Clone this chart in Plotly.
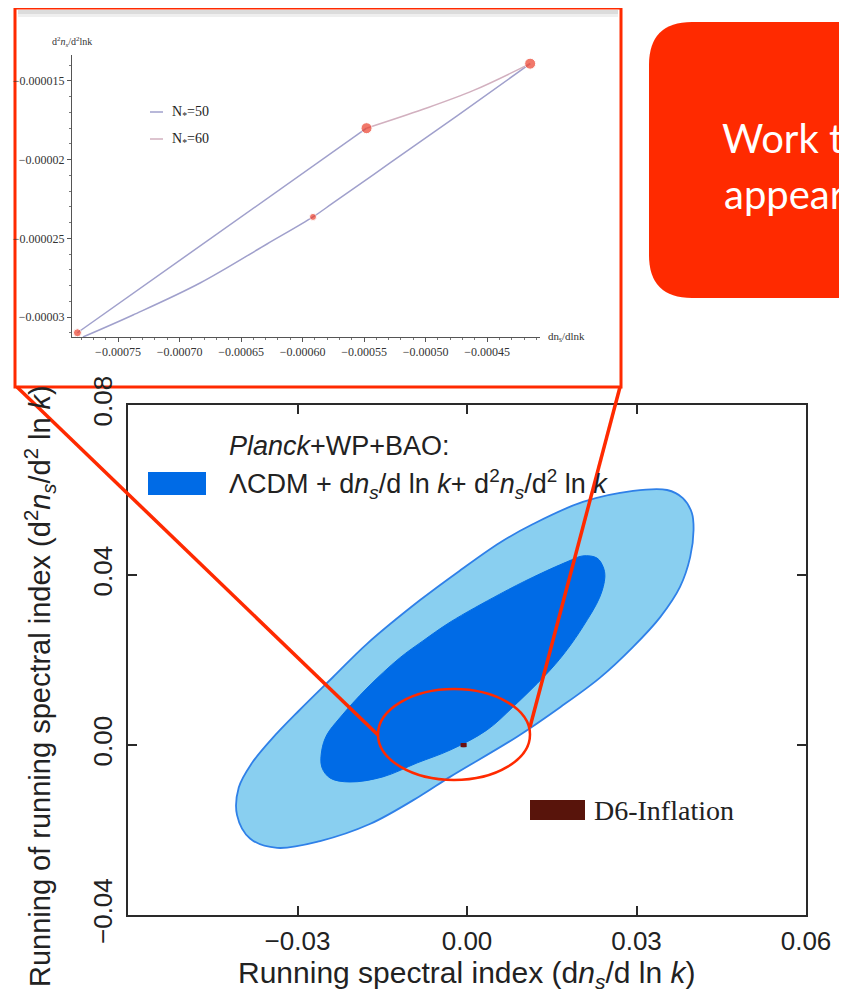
import plotly.graph_objects as go

# page offset (body margin) and figure size
OFF = 8
W, H = 847 - OFF, 1001 - 2 * OFF

# ---------------- data ----------------
# 95% (outer) contour boundary of Planck+WP+BAO
outer_x = [0.0294, 0.0354, 0.0382, 0.0398, 0.0401, 0.0395, 0.0377, 0.0342, 0.0294, 0.0235,
           0.0165, 0.0088, -0.0030, -0.0083, -0.0172, -0.0260, -0.0336, -0.0384, -0.0407,
           -0.0404, -0.0382, -0.0345, -0.0298, -0.0237, -0.0177, -0.0083, -0.0012, 0.0058,
           0.0117, 0.0205, 0.0294]
outer_y = [0.0598, 0.0600, 0.0581, 0.0546, 0.0506, 0.0442, 0.0372, 0.0301, 0.0231, 0.0158,
           0.0089, 0.0019, -0.0075, -0.0120, -0.0186, -0.0226, -0.0242, -0.0220, -0.0165,
           -0.0100, -0.0045, 0.0015, 0.0080, 0.0160, 0.0238, 0.0341, 0.0411, 0.0476,
           0.0520, 0.0572, 0.0598]
# 68% (inner) contour boundary
inner_x = [0.0205, 0.0230, 0.0241, 0.0244, 0.0235, 0.0205, 0.0177, 0.0147, 0.0081, 0.0035,
           -0.0030, -0.0088, -0.0149, -0.0207, -0.0242, -0.0257, -0.0257, -0.0248, -0.0225,
           -0.0177, -0.0119, -0.0078, -0.0030, 0.0058, 0.0117, 0.0177, 0.0205]
inner_y = [0.0445, 0.0440, 0.0419, 0.0395, 0.0348, 0.0278, 0.0224, 0.0176, 0.0089, 0.0035,
           -0.0012, -0.0042, -0.0075, -0.0087, -0.0078, -0.0052, -0.0012, 0.0024, 0.0064,
           0.0134, 0.0205, 0.0245, 0.0289, 0.0355, 0.0395, 0.0431, 0.0445]

# D6-inflation predictions (inset)
n50_x = [-0.0007785, -0.0007378, -0.0006833, -0.0006289, -0.0005915, -0.0005752, -0.0005289, -0.0004744, -0.000415]
n50_y = [-0.00003127, -0.00002987, -0.00002784, -0.00002536, -0.00002364, -0.00002275, -0.00002021, -0.00001722, -0.0000139]
line_x = [-0.000783, -0.000548]
line_y = [-0.0000310, -0.0000180]
n60_x = [-0.000548, -0.000502, -0.000461, -0.000415]
n60_y = [-0.0000180, -0.0000168, -0.0000156, -0.0000139]
dot_x = [-0.000783, -0.0005915, -0.000548, -0.000415]
dot_y = [-0.0000310, -0.00002364, -0.0000180, -0.0000139]
dot_size = [8, 7, 11, 11]

main_xticks = [-0.03, 0.0, 0.03, 0.06]
main_xtext = ["\u22120.03", "0.00", "0.03", "0.06"]
main_yticks = [-0.04, 0.0, 0.04, 0.08]
main_ytext = ["\u22120.04", "0.00", "0.04", "0.08"]
inset_xticks = [-0.00075, -0.00070, -0.00065, -0.00060, -0.00055, -0.00050, -0.00045]
inset_xtext = ["\u22120.00075", "\u22120.00070", "\u22120.00065", "\u22120.00060",
               "\u22120.00055", "\u22120.00050", "\u22120.00045"]
inset_yticks = [-0.000015, -0.00002, -0.000025, -0.00003]
inset_ytext = ["\u22120.000015", "\u22120.00002", "\u22120.000025", "\u22120.00003"]


def px(x):
    return (x - OFF) / W


def py(y):
    return 1 - (y - OFF) / H


RED = "#ff2a00"
LIGHT = "#89cff0"
DARK = "#006be6"
SANS = "Liberation Sans"
SERIF = "Liberation Serif"

fig = go.Figure()

# main contours
fig.add_trace(go.Scatter(x=outer_x, y=outer_y, mode="lines", fill="toself",
                         fillcolor=LIGHT, line=dict(color="#2f80e8", width=1.8, shape="spline"),
                         hoverinfo="skip", showlegend=False))
fig.add_trace(go.Scatter(x=inner_x, y=inner_y, mode="lines", fill="toself",
                         fillcolor=DARK, line=dict(color=DARK, width=1, shape="spline"),
                         hoverinfo="skip", showlegend=False))
fig.add_trace(go.Scatter(x=dot_x, y=dot_y, mode="markers",
                         marker=dict(color="#6b1010", size=4, symbol="square"),
                         hoverinfo="skip", showlegend=False))

# inset curves
fig.add_trace(go.Scatter(x=n50_x, y=n50_y, mode="lines", xaxis="x2", yaxis="y2",
                         line=dict(color="#a0a0cc", width=1.5, shape="spline"), showlegend=False))
fig.add_trace(go.Scatter(x=line_x, y=line_y, mode="lines", xaxis="x2", yaxis="y2",
                         line=dict(color="#a0a0cc", width=1.5), showlegend=False))
fig.add_trace(go.Scatter(x=n60_x, y=n60_y, mode="lines", xaxis="x2", yaxis="y2",
                         line=dict(color="#d2b0bf", width=1.5, shape="spline"), showlegend=False))
fig.add_trace(go.Scatter(x=dot_x, y=dot_y, mode="markers", xaxis="x2", yaxis="y2",
                         marker=dict(color="#ec3f2c", size=dot_size), cliponaxis=False,
                         showlegend=False))

shapes = []
# inset frame (white with red border)
shapes.append(dict(type="rect", xref="paper", yref="paper", x0=px(15), x1=px(621), y0=py(387), y1=py(8),
                   fillcolor="white", line=dict(color=RED, width=3), layer="below"))
shapes.append(dict(type="line", xref="paper", yref="paper", x0=px(18), x1=px(618), y0=py(12), y1=py(12),
                   line=dict(color="#dcdcdc", width=4), layer="below"))
shapes.append(dict(type="line", xref="paper", yref="paper", x0=px(18), x1=px(618), y0=py(15.5), y1=py(15.5),
                   line=dict(color="#efefef", width=3), layer="below"))
# red rounded box top right
x0, x1, y0, y1, r = 649, 960, 22, 298, 43
path = (f"M {px(x0 + r)},{py(y0)} L {px(x1)},{py(y0)} L {px(x1)},{py(y1)} L {px(x0 + r)},{py(y1)} "
        f"Q {px(x0)},{py(y1)} {px(x0)},{py(y1 - r)} L {px(x0)},{py(y0 + r)} "
        f"Q {px(x0)},{py(y0)} {px(x0 + r)},{py(y0)} Z")
shapes.append(dict(type="path", xref="paper", yref="paper", path=path, fillcolor="#ff2a00",
                   line=dict(width=0), layer="below"))
# legend swatches
shapes.append(dict(type="rect", xref="paper", yref="paper", x0=px(148), x1=px(206), y0=py(495), y1=py(472),
                   fillcolor=DARK, line=dict(width=0), layer="above"))
shapes.append(dict(type="rect", xref="paper", yref="paper", x0=px(530), x1=px(585), y0=py(820), y1=py(800),
                   fillcolor="#58140b", line=dict(width=0), layer="above"))
shapes.append(dict(type="line", xref="paper", yref="paper", x0=px(150), x1=px(163), y0=py(112), y1=py(112),
                   line=dict(color="#a0a0cc", width=1.5), layer="above"))
shapes.append(dict(type="line", xref="paper", yref="paper", x0=px(150), x1=px(163), y0=py(139), y1=py(139),
                   line=dict(color="#d2b0bf", width=1.5), layer="above"))
# callout ellipse and connector lines
shapes.append(dict(type="circle", xref="paper", yref="paper", x0=px(378), x1=px(530), y0=py(780), y1=py(689),
                   line=dict(color=RED, width=2.5), layer="above"))
shapes.append(dict(type="line", xref="paper", yref="paper", x0=px(17), y0=py(387), x1=px(378), y1=py(735),
                   line=dict(color=RED, width=3.5), layer="above"))
shapes.append(dict(type="line", xref="paper", yref="paper", x0=px(620), y0=py(387), x1=px(530), y1=py(727),
                   line=dict(color=RED, width=3.5), layer="above"))

ann = []
ann.append(dict(x=px(227), y=py(446), xref="paper", yref="paper", xanchor="left", yanchor="middle",
                text="<i>Planck</i>+WP+BAO:", showarrow=False, font=dict(family=SANS, size=27, color="#222")))
ann.append(dict(x=px(227), y=py(484), xref="paper", yref="paper", xanchor="left", yanchor="middle",
                text="\u039bCDM + d<i>n<sub>s</sub></i>/d ln <i>k</i>+ d<sup>2</sup><i>n<sub>s</sub></i>/d<sup>2</sup> ln <i>k</i>",
                showarrow=False, font=dict(family=SANS, size=27, color="#222")))
ann.append(dict(x=px(592), y=py(810), xref="paper", yref="paper", xanchor="left", yanchor="middle",
                text="D6-Inflation", showarrow=False, font=dict(family=SERIF, size=28, color="#222")))
ann.append(dict(x=px(466), y=py(974), xref="paper", yref="paper", xanchor="center", yanchor="middle",
                text="Running spectral index (d<i>n<sub>s</sub></i>/d ln <i>k</i>)",
                showarrow=False, font=dict(family=SANS, size=30, color="#222")))
ann.append(dict(x=px(40), y=py(989), xref="paper", yref="paper", xanchor="center", yanchor="bottom",
                textangle=-90,
                text="Running of running spectral index (d<sup>2</sup><i>n<sub>s</sub></i>/d<sup>2</sup> ln <i>k</i>)",
                showarrow=False, font=dict(family=SANS, size=29, color="#222")))
# the inset picture lies on top of the end of the y title
ann.append(dict(x=px(40), y=py(385), xref="paper", yref="paper", xanchor="center", yanchor="bottom",
                text=" ", width=36, height=30, bgcolor="white", showarrow=False,
                font=dict(family=SANS, size=10, color="white")))
# inset texts
ann.append(dict(x=px(72), y=py(42), xref="paper", yref="paper", xanchor="center", yanchor="middle",
                text="d<sup>2</sup><i>n<sub>s</sub></i>/d<sup>2</sup>lnk", showarrow=False,
                font=dict(family=SERIF, size=10, color="#333")))
ann.append(dict(x=px(546), y=py(337), xref="paper", yref="paper", xanchor="left", yanchor="middle",
                text="dn<sub>s</sub>/dlnk", showarrow=False, font=dict(family=SERIF, size=11, color="#333")))
ann.append(dict(x=px(170), y=py(112), xref="paper", yref="paper", xanchor="left", yanchor="middle",
                text="N<sub>*</sub>=50", showarrow=False, font=dict(family=SERIF, size=14, color="#222")))
ann.append(dict(x=px(170), y=py(139), xref="paper", yref="paper", xanchor="left", yanchor="middle",
                text="N<sub>*</sub>=60", showarrow=False, font=dict(family=SERIF, size=14, color="#222")))
# red box text
ann.append(dict(x=px(720), y=py(138), xref="paper", yref="paper", xanchor="left", yanchor="middle",
                text="Work to", showarrow=False, font=dict(family="Lato", size=40, color="white")))
ann.append(dict(x=px(722), y=py(194), xref="paper", yref="paper", xanchor="left", yanchor="middle",
                text="appear", showarrow=False, font=dict(family="Lato", size=40, color="white")))

axis_common = dict(showgrid=False, zeroline=False, showline=True, linecolor="#2a2a2a", linewidth=2,
                   mirror="ticks", ticks="inside", ticklen=9, tickwidth=1.5, tickcolor="#2a2a2a",
                   automargin=False, tickfont=dict(family=SANS, size=26, color="#222"))

fig.update_layout(
    width=W, height=H, margin=dict(l=0, r=0, t=0, b=0, autoexpand=False),
    paper_bgcolor="white", plot_bgcolor="rgba(0,0,0,0)",
    showlegend=False,
    xaxis=dict(domain=[px(128), px(806)], range=[-0.06, 0.06], tickvals=main_xticks,
               ticktext=main_xtext, anchor="y", ticklabelstandoff=2, **axis_common),
    yaxis=dict(domain=[py(915), py(405)], range=[-0.04, 0.08], tickvals=main_yticks,
               ticktext=main_ytext, anchor="x", tickangle=-90, ticklabelstandoff=4, **axis_common),
    xaxis2=dict(domain=[px(72), px(540)], range=[-0.0007874, -0.000407], anchor="y2",
                showgrid=False, zeroline=False, showline=True, linecolor="#555", linewidth=1,
                automargin=False,
                ticks="outside", ticklen=4, tickcolor="#555", tickvals=inset_xticks, ticktext=inset_xtext,
                tickfont=dict(family=SERIF, size=12, color="#333"),
                minor=dict(ticks="outside", ticklen=2, tickcolor="#777", dtick=0.00001)),
    yaxis2=dict(domain=[py(337), py(55)], range=[-0.00003127, -0.00001335], anchor="x2",
                showgrid=False, zeroline=False, showline=True, linecolor="#555", linewidth=1,
                automargin=False,
                ticks="outside", ticklen=4, tickcolor="#555", tickvals=inset_yticks, ticktext=inset_ytext,
                tickfont=dict(family=SERIF, size=12, color="#333"),
                minor=dict(ticks="outside", ticklen=2, tickcolor="#777", dtick=0.000001)),
    shapes=shapes, annotations=ann,
)

fig.write_html("out.html")
